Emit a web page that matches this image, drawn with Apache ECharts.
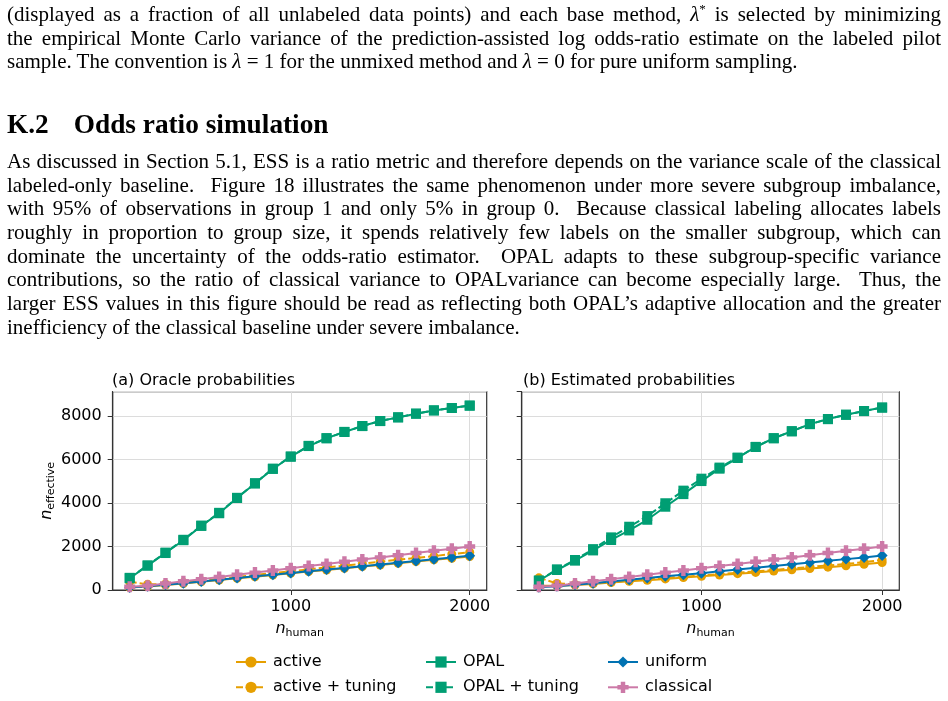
<!DOCTYPE html>
<html>
<head>
<meta charset="utf-8">
<script src="https://cdn.jsdelivr.net/npm/echarts@6/dist/echarts.min.js"></script>
<style>
  html, body { margin: 0; padding: 0; background: #fff; }
  body { width: 948px; height: 701px; position: relative; overflow: hidden; }
  #chart { position: absolute; left: 0; top: 0; width: 948px; height: 701px; }
  .txt { position: absolute; left: 7px; width: 934px; font-family: "Liberation Serif", serif; font-size: 21px; color: #000; z-index: 2; }
  .txt div { height: 23.7px; line-height: 23.7px; }
  .j { text-align: justify; text-align-last: justify; }
  .h { position: absolute; left: 7px; top: 109px; font-family: "Liberation Serif", serif; font-weight: bold; font-size: 27.3px; line-height: 30px; z-index: 2; }
  sup { font-size: 13px; line-height: 0; }
</style>
</head>
<body>
<div class="txt" style="top:3px">
  <div class="j">(displayed as a fraction of all unlabeled data points) and each base method, <i>λ</i><sup>*</sup> is selected by minimizing</div>
  <div class="j">the empirical Monte Carlo variance of the prediction-assisted log odds-ratio estimate on the labeled pilot</div>
  <div>sample. The convention is <i>λ</i> = 1 for the unmixed method and <i>λ</i> = 0 for pure uniform sampling.</div>
</div>
<div class="h">K.2<span style="margin-left:25px">Odds ratio simulation</span></div>
<div class="txt" style="top:150px">
  <div class="j">As discussed in Section 5.1, ESS is a ratio metric and therefore depends on the variance scale of the classical</div>
  <div class="j">labeled-only baseline. &nbsp;Figure 18 illustrates the same phenomenon under more severe subgroup imbalance,</div>
  <div class="j">with 95% of observations in group 1 and only 5% in group 0. &nbsp;Because classical labeling allocates labels</div>
  <div class="j">roughly in proportion to group size, it spends relatively few labels on the smaller subgroup, which can</div>
  <div class="j">dominate the uncertainty of the odds-ratio estimator. &nbsp;OPAL adapts to these subgroup-specific variance</div>
  <div class="j">contributions, so the ratio of classical variance to OPALvariance can become especially large. &nbsp;Thus, the</div>
  <div class="j">larger ESS values in this figure should be read as reflecting both OPAL’s adaptive allocation and the greater</div>
  <div>inefficiency of the classical baseline under severe imbalance.</div>
</div>
<div id="chart"></div>
<script>
// n_human values on the x axis
var nHuman = [100, 200, 300, 400, 500, 600, 700, 800, 900, 1000, 1100, 1200, 1300, 1400, 1500, 1600, 1700, 1800, 1900, 2000];

// (a) Oracle probabilities
var activeA    = [110, 160, 230, 300, 380, 460, 540, 610, 690, 770, 850, 920, 1000, 1080, 1150, 1230, 1310, 1390, 1460, 1540];
var activeTunA = [380, 260, 280, 350, 430, 510, 600, 690, 780, 860, 950, 1040, 1120, 1210, 1300, 1390, 1470, 1560, 1650, 1740];
var opalA      = [540, 1120, 1700, 2290, 2950, 3530, 4230, 4900, 5570, 6130, 6620, 6980, 7270, 7540, 7770, 7940, 8110, 8260, 8370, 8480];
var opalTunA   = [560, 1130, 1720, 2310, 2960, 3550, 4240, 4910, 5580, 6140, 6630, 6980, 7270, 7540, 7770, 7940, 8110, 8260, 8370, 8480];
var uniformA   = [120, 170, 240, 310, 390, 470, 550, 630, 700, 780, 860, 940, 1010, 1090, 1170, 1250, 1330, 1410, 1490, 1570];
var classicalA = [150, 200, 300, 400, 500, 600, 700, 800, 900, 1000, 1100, 1200, 1300, 1400, 1500, 1600, 1700, 1800, 1900, 2000];

// (b) Estimated probabilities
var activeB    = [200, 190, 230, 280, 340, 400, 450, 510, 570, 630, 690, 750, 810, 870, 930, 990, 1050, 1110, 1180, 1260];
var activeTunB = [560, 300, 260, 310, 370, 430, 490, 550, 610, 670, 730, 790, 860, 920, 990, 1060, 1130, 1200, 1280, 1380];
var opalB      = [430, 920, 1350, 1820, 2300, 2740, 3230, 3830, 4410, 5010, 5580, 6070, 6580, 6980, 7300, 7630, 7860, 8060, 8230, 8390];
var opalTunB   = [430, 950, 1380, 1880, 2420, 2910, 3400, 3990, 4570, 5120, 5630, 6090, 6580, 6980, 7300, 7630, 7860, 8060, 8230, 8390];
var uniformB   = [130, 170, 240, 310, 390, 470, 550, 630, 700, 770, 860, 940, 1020, 1100, 1180, 1260, 1340, 1420, 1500, 1590];
var classicalB = [150, 200, 300, 400, 500, 600, 700, 800, 900, 1000, 1100, 1200, 1300, 1400, 1500, 1600, 1700, 1800, 1900, 2000];

var xTicks = [1000, 2000];

var ORANGE = '#E69F00', GREEN = '#009E73', BLUE = '#0072B2', PINK = '#CC79A7';
var FONT = 'DejaVu Sans';
var plusPath = 'path://M-1.2,-3L1.2,-3L1.2,-1.2L3,-1.2L3,1.2L1.2,1.2L1.2,3L-1.2,3L-1.2,1.2L-3,1.2L-3,-1.2L-1.2,-1.2Z';

function pts(ys) {
	return nHuman.map(function (x, i) { return [x, ys[i]]; });
}

function mk(name, ys, g, color, symbol, size, dashed) {
	return {
		name: name, type: 'line', xAxisIndex: g, yAxisIndex: g,
		data: pts(ys),
		symbol: symbol, symbolSize: size, showSymbol: true,
		lineStyle: { width: 2, color: color, type: dashed ? [7, 3] : 'solid' },
		itemStyle: { color: color },
		emphasis: { disabled: true },
		silent: true
	};
}

// 下标形式的坐标轴名称
var nameRich = {
	i: { fontSize: 16, fontStyle: 'italic', fontFamily: FONT, color: '#000', lineHeight: 20 },
	s: { fontSize: 11, fontFamily: FONT, color: '#000', lineHeight: 11, padding: [9, 0, 0, 0] }
};

function xAxis(g) {
	return {
		type: 'value', gridIndex: g, min: 5, max: 2095,
		axisLine: { show: true, lineStyle: { color: '#333', width: 1.2 } },
		axisTick: { show: true, length: 5, customValues: xTicks, lineStyle: { color: '#333' } },
		axisLabel: { customValues: xTicks, margin: 9, fontSize: 16, color: '#000', fontFamily: FONT,
			formatter: function (v) { return String(v); } },
		splitLine: { show: true, lineStyle: { color: '#dcdcdc', width: 1 } },
		name: '{i|n}{s|human}', nameLocation: 'middle', nameGap: 29,
		nameTextStyle: { rich: nameRich }
	};
}

function yAxis(g) {
	var ax = {
		type: 'value', gridIndex: g, min: 0, max: 9120, interval: 2000,
		axisLine: { show: true, lineStyle: { color: '#333', width: 1.2 } },
		axisTick: { show: true, length: 5, lineStyle: { color: '#333' } },
		axisLabel: { show: g === 0, margin: 11, fontSize: 16, color: '#000', fontFamily: FONT,
			showMaxLabel: false, formatter: function (v) { return String(v); } },
		splitLine: { show: true, lineStyle: { color: '#dcdcdc', width: 1 } }
	};
	if (g === 0) {
		ax.name = '{i|n}{s|effective}';
		ax.nameLocation = 'middle';
		ax.nameGap = 49;
		ax.nameRotate = 90;
		ax.nameTextStyle = { rich: nameRich };
	}
	return ax;
}

var legendBase = {
	orient: 'vertical', top: 654, itemWidth: 30, itemHeight: 14, itemGap: 9.3, padding: 0,
	itemStyle: { borderWidth: 0 },
	textStyle: { fontSize: 16, color: '#000', fontFamily: FONT, padding: [0, 0, 0, 2] },
	selectedMode: false
};

var option = {
	animation: false,
	title: [
		{ text: '(a) Oracle probabilities', left: 112, top: 373, padding: 0,
			textStyle: { fontSize: 16, fontWeight: 'normal', color: '#000', fontFamily: FONT } },
		{ text: '(b) Estimated probabilities', left: 523, top: 373, padding: 0,
			textStyle: { fontSize: 16, fontWeight: 'normal', color: '#000', fontFamily: FONT } }
	],
	grid: [
		{ left: 112.7, top: 391.7, width: 374, height: 198.3, show: true, borderColor: '#333', borderWidth: 1.2 },
		{ left: 521.7, top: 391.7, width: 377.6, height: 198.3, show: true, borderColor: '#333', borderWidth: 1.2 }
	],
	xAxis: [xAxis(0), xAxis(1)],
	yAxis: [yAxis(0), yAxis(1)],
	legend: [
		Object.assign({}, legendBase, { left: 235, data: ['active', 'active + tuning'] }),
		Object.assign({}, legendBase, { left: 425, data: ['OPAL', 'OPAL + tuning'] }),
		Object.assign({}, legendBase, { left: 607, data: ['uniform', 'classical'] })
	],
	series: [
		mk('active', activeA, 0, ORANGE, 'circle', 9, false),
		mk('active + tuning', activeTunA, 0, ORANGE, 'circle', 9, true),
		mk('OPAL', opalA, 0, GREEN, 'rect', 10, false),
		mk('OPAL + tuning', opalTunA, 0, GREEN, 'rect', 10, true),
		mk('uniform', uniformA, 0, BLUE, 'diamond', 11, false),
		mk('classical', classicalA, 0, PINK, plusPath, 11, false),
		mk('active', activeB, 1, ORANGE, 'circle', 9, false),
		mk('active + tuning', activeTunB, 1, ORANGE, 'circle', 9, true),
		mk('OPAL', opalB, 1, GREEN, 'rect', 10, false),
		mk('OPAL + tuning', opalTunB, 1, GREEN, 'rect', 10, true),
		mk('uniform', uniformB, 1, BLUE, 'diamond', 11, false),
		mk('classical', classicalB, 1, PINK, plusPath, 11, false)
	]
};

var myChart = echarts.init(document.getElementById('chart'));
myChart.setOption(option);
</script>
</body>
</html>
